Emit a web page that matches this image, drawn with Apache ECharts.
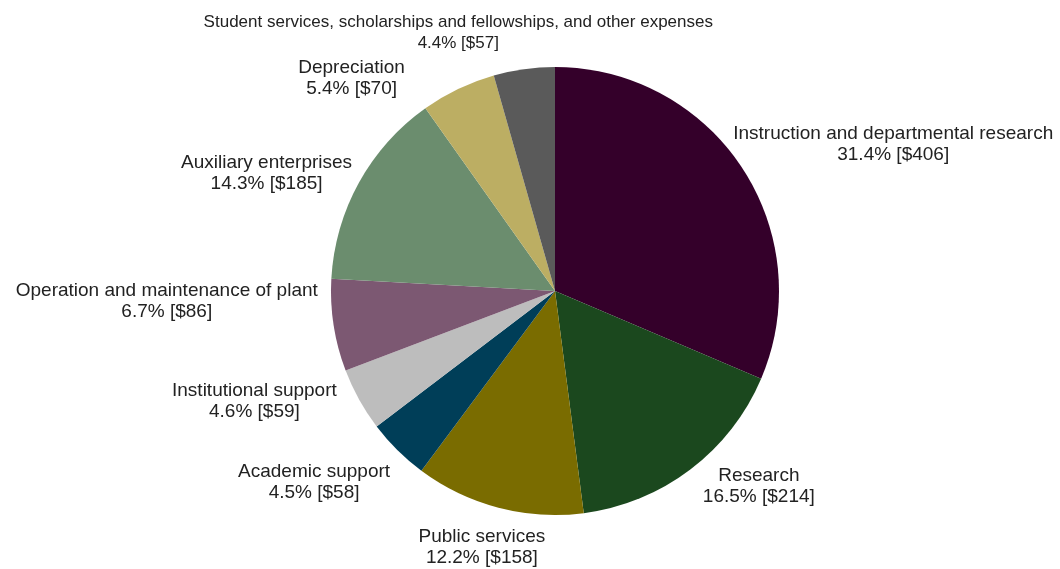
<!DOCTYPE html>
<html>
<head>
<meta charset="utf-8">
<script src="https://cdn.jsdelivr.net/npm/echarts@6/dist/echarts.min.js"></script>
<style>html,body{margin:0;padding:0;background:#fff;}#c{width:1060px;height:569px;}</style>
</head>
<body>
<div id="c"></div>
<script>
var categories = [
  'Instruction and departmental research',
  'Research',
  'Public services',
  'Academic support',
  'Institutional support',
  'Operation and maintenance of plant',
  'Auxiliary enterprises',
  'Depreciation',
  'Student services, scholarships and fellowships, and other expenses'
];
var dollars = [406, 214, 158, 58, 59, 86, 185, 70, 57];
var percents = ['31.4', '16.5', '12.2', '4.5', '4.6', '6.7', '14.3', '5.4', '4.4'];

// styling (not data)
var colors = ['#34002a', '#1b481e', '#7a6c00', '#003e58', '#bdbdbd', '#7c5872', '#6b8d6e', '#bcae63', '#5a5a5a'];
// label guide lengths [radial, horizontal] used only to place the (hidden-line) labels
var labelGuides = [[42.4, -44], [20.7, 0], [40.6, -57], [44.6, -24], [2.7, 20], [-155, 169], [20.3, -11], [12.2, 48], [37.1, -194]];
var labelFontSizes = [19, 19, 19, 19, 19, 19, 19, 19, 17];

var data = categories.map(function (name, i) {
  return {
    name: name,
    value: dollars[i],
    itemStyle: { color: colors[i] },
    label: { fontSize: labelFontSizes[i] },
    labelLine: { show: false, length: labelGuides[i][0], length2: labelGuides[i][1] }
  };
});

var chart = echarts.init(document.getElementById('c'), null, { renderer: 'canvas' });
chart.setOption({
  backgroundColor: '#ffffff',
  animation: false,
  series: [{
    type: 'pie',
    center: [555, 291],
    radius: 224,
    startAngle: 90,
    clockwise: true,
    avoidLabelOverlap: false,
    minShowLabelAngle: 0,
    itemStyle: { borderWidth: 0 },
    label: {
      show: true,
      position: 'outside',
      distanceToLabelLine: 0,
      color: '#222222',
      fontFamily: 'Liberation Sans, Arial, Helvetica, sans-serif',
      fontSize: 19,
      lineHeight: 21,
      formatter: function (p) {
        return p.name + '\n' + percents[p.dataIndex] + '% [$' + dollars[p.dataIndex] + ']';
      }
    },
    labelLine: { show: false },
    labelLayout: function (params) {
      var r = params.labelRect;
      return { x: r.x + r.width / 2, y: r.y + r.height / 2, align: 'center', verticalAlign: 'middle' };
    },
    emphasis: { disabled: true },
    data: data
  }]
});
</script>
</body>
</html>
